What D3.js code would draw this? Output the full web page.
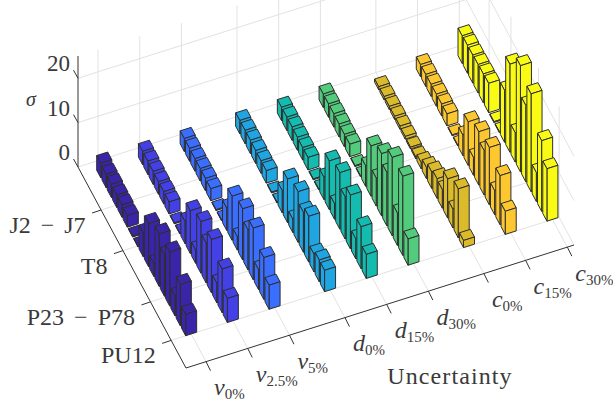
<!DOCTYPE html>
<html>
<head>
<meta charset="utf-8">
<script src="https://cdn.jsdelivr.net/npm/d3@7/dist/d3.min.js"></script>
<style>
  html, body { margin: 0; padding: 0; background: #fff; }
  text { font-family: "Liberation Serif", serif; fill: #3a3a3a; }
</style>
</head>
<body>
<svg id="chart" width="613" height="402"></svg>
<script>
// x categories: symbol, subscript, position on the axis (groups are a third of a step apart)
const uncertaintySymbols = ['v', 'v', 'v', 'd', 'd', 'd', 'c', 'c', 'c']
const uncertaintySubs = ['0%', '2.5%', '5%', '0%', '15%', '30%', '0%', '15%', '30%']
const uncertaintyPos = [1, 2, 3, 4.33, 5.33, 6.33, 7.66, 8.66, 9.66]

const contingencyLabels = ['J2 \u2212 J7', 'T8', 'P23 \u2212 P78', 'PU12']
const contingencyTicks = [4.18, 8.3, 13.5, 17.4]
const rows = [1, 2, 3, 4, 5, 6, 7, 8, 9, 10, 11, 12, 13, 14, 15, 16, 17]

const sigmaTicks = [0, 10, 20]

const sigmaV0 = [3.3, 3.0, 3.0, 2.8, 2.8, 2.6, 0.2, 0.2, 5.4, 9.7, 2.9, 11.8, 9.2, 12.2, 4.4, 9.3, 4.8]
const sigmaV25 = [3.0, 3.0, 2.9, 2.8, 2.8, 2.7, 0.2, 0.2, 5.0, 9.6, 3.0, 11.6, 9.0, 12.0, 4.4, 9.8, 5.4]
const sigmaV5 = [2.9, 2.9, 2.8, 2.8, 2.8, 2.7, 0.2, 0.2, 5.0, 9.9, 3.0, 11.5, 9.0, 11.6, 4.5, 9.4, 5.4]
const sigmaD0 = [3.0, 3.0, 3.0, 2.9, 2.8, 2.8, 0.2, 0.2, 5.0, 9.8, 3.0, 11.4, 9.0, 10.3, 4.0, 4.9, 4.8]
const sigmaD15 = [3.0, 3.0, 3.0, 2.9, 2.8, 2.8, 0.2, 0.2, 5.0, 10.9, 3.5, 12.7, 9.5, 12.1, 4.5, 9.4, 5.4]
const sigmaD30 = [3.0, 3.0, 3.0, 2.9, 2.8, 2.8, 0.2, 0.2, 4.6, 11.3, 6.3, 14.0, 12.0, 17.6, 7.3, 17.8, 5.9]
const sigmaC0 = [0.7, 0.7, 0.7, 0.7, 0.7, 0.6, 0.4, 0.4, 1.4, 2.5, 3.7, 4.4, 4.2, 8.8, 4.2, 11.0, 1.6]
const sigmaC15 = [2.7, 2.7, 2.7, 2.7, 2.7, 2.7, 0.2, 0.2, 4.6, 9.8, 4.0, 12.0, 10.0, 12.9, 5.4, 11.0, 5.2]
const sigmaC30 = [6.2, 6.3, 6.3, 6.4, 6.5, 6.6, 0.2, 0.2, 11.7, 19.8, 6.6, 23.9, 17.2, 22.0, 6.5, 15.9, 11.8]
const sigmaSeries = [sigmaV0, sigmaV25, sigmaV5, sigmaD0, sigmaD15, sigmaD30, sigmaC0, sigmaC15, sigmaC30]

const colors = ['#3a25a8', '#4340e6', '#3a6eff', '#1ea5e2', '#14bcb0', '#52cb7c', '#dcbb2a', '#fdc82f', '#f9fb15']

const gridColor = '#e2e2e2'
const axisColor = '#333'
const barEdge = '#2e2e2e'

// fixed orthographic view of the box, in pixels
const origin = { x: 78, y: 167 }
const xEdge = { x: 388, y: -123 }
const yEdge = { x: 108, y: 201 }

const xScale = d3.scaleLinear().domain([0.52, 9.82]).range([0, 1])
const yScale = d3.scaleLinear().domain([-0.18, 20.2]).range([0, 1])
const zScale = d3.scaleLinear().domain([0, 25]).range([0, 111])

const project = (x, y, z) => [
  origin.x + xScale(x) * xEdge.x + yScale(y) * yEdge.x,
  origin.y + xScale(x) * xEdge.y + yScale(y) * yEdge.y - zScale(z)
]

const xMin = xScale.domain()[0]
const xMax = xScale.domain()[1]
const yMin = yScale.domain()[0]
const yMax = yScale.domain()[1]
const zMax = zScale.domain()[1]

const svg = d3.select('#chart')
const line = d3.line()
const closed = d3.line().curve(d3.curveLinearClosed)

// grid
const gridLines = []
uncertaintyPos.forEach(x => {
  gridLines.push([project(x, yMin, 0), project(x, yMax, 0)])
  gridLines.push([project(x, yMin, 0), project(x, yMin, zMax)])
})
contingencyTicks.forEach(y => {
  gridLines.push([project(xMin, y, 0), project(xMax, y, 0)])
  gridLines.push([project(xMax, y, 0), project(xMax, y, zMax)])
})
sigmaTicks.forEach(z => {
  gridLines.push([project(xMin, yMin, z), project(xMax, yMin, z)])
  gridLines.push([project(xMax, yMin, z), project(xMax, yMax, z)])
})

svg.append('g').selectAll('path')
  .data(gridLines)
  .enter().append('path')
  .attr('d', line)
  .attr('fill', 'none')
  .attr('stroke', gridColor)
  .attr('stroke-width', 1)

// axes and ticks
const axisLines = [
  [project(xMin, yMax, 0), project(xMax, yMax, 0)],
  [project(xMin, yMin, 0), project(xMin, yMax, 0)],
  [project(xMin, yMin, 0), project(xMin, yMin, zMax)]
]
const shift = (p, dx, dy) => [p[0] + dx, p[1] + dy]
uncertaintyPos.forEach(x => {
  const p = project(x, yMax, 0)
  axisLines.push([p, shift(p, 4.5, 9)])
})
contingencyTicks.forEach(y => {
  const p = project(xMin, y, 0)
  axisLines.push([p, shift(p, -9, 3)])
})
sigmaTicks.forEach(z => {
  const p = project(xMin, yMin, z)
  axisLines.push([p, shift(p, -4.5, -8)])
})

svg.append('g').selectAll('path')
  .data(axisLines)
  .enter().append('path')
  .attr('d', line)
  .attr('fill', 'none')
  .attr('stroke', axisColor)
  .attr('stroke-width', 1)

// bars, far ones first
const barWidth = 0.264
const barDepth = 0.78
const bars = []
uncertaintyPos.forEach((x, col) => {
  rows.forEach((row, i) => {
    bars.push({ x, row, z: sigmaSeries[col][i], color: colors[col] })
  })
})
bars.sort((a, b) => d3.descending(a.x, b.x) || d3.ascending(a.row, b.row))

const faces = d => {
  const x0 = d.x - barWidth / 2
  const x1 = d.x + barWidth / 2
  const y0 = d.row - barDepth / 2
  const y1 = d.row + barDepth / 2
  return [
    [project(x0, y0, d.z), project(x1, y0, d.z), project(x1, y1, d.z), project(x0, y1, d.z)],
    [project(x0, y1, d.z), project(x1, y1, d.z), project(x1, y1, 0), project(x0, y1, 0)],
    [project(x0, y0, d.z), project(x0, y1, d.z), project(x0, y1, 0), project(x0, y0, 0)]
  ]
}

svg.append('g').selectAll('g')
  .data(bars)
  .enter().append('g')
  .attr('fill', d => d.color)
  .selectAll('path')
  .data(faces)
  .enter().append('path')
  .attr('d', closed)
  .attr('stroke', barEdge)
  .attr('stroke-width', 1)
  .attr('stroke-linejoin', 'round')

// labels
const labelSize = 24
const subSize = 15

svg.append('g').selectAll('text')
  .data(sigmaTicks)
  .enter().append('text')
  .attr('x', d => project(xMin, yMin, d)[0] - 8)
  .attr('y', d => project(xMin, yMin, d)[1] - 7)
  .attr('text-anchor', 'end')
  .attr('font-size', 23)
  .text(d => d)

svg.append('g').selectAll('text')
  .data(contingencyLabels)
  .enter().append('text')
  .attr('x', (d, i) => project(xMin, contingencyTicks[i], 0)[0] - 15.5)
  .attr('y', (d, i) => project(xMin, contingencyTicks[i], 0)[1] + 23)
  .attr('text-anchor', 'end')
  .attr('font-size', labelSize)
  .attr('word-spacing', 4)
  .text(d => d)

const xLabels = svg.append('g').selectAll('text')
  .data(uncertaintyPos)
  .enter().append('text')
  .attr('x', d => project(d, yMax, 0)[0] + 8)
  .attr('y', d => project(d, yMax, 0)[1] + 33.5)
  .attr('font-size', labelSize)
xLabels.append('tspan')
  .attr('font-style', 'italic')
  .text((d, i) => uncertaintySymbols[i])
xLabels.append('tspan')
  .attr('dy', 4)
  .attr('font-size', subSize)
  .text((d, i) => uncertaintySubs[i])

svg.append('text')
  .attr('x', 450)
  .attr('y', 384)
  .attr('text-anchor', 'middle')
  .attr('font-size', labelSize)
  .attr('letter-spacing', 1.1)
  .text('Uncertainty')

svg.append('text')
  .attr('x', 31)
  .attr('y', 106)
  .attr('text-anchor', 'middle')
  .attr('font-size', 20)
  .attr('font-style', 'italic')
  .text('\u03c3')
</script>
</body>
</html>
